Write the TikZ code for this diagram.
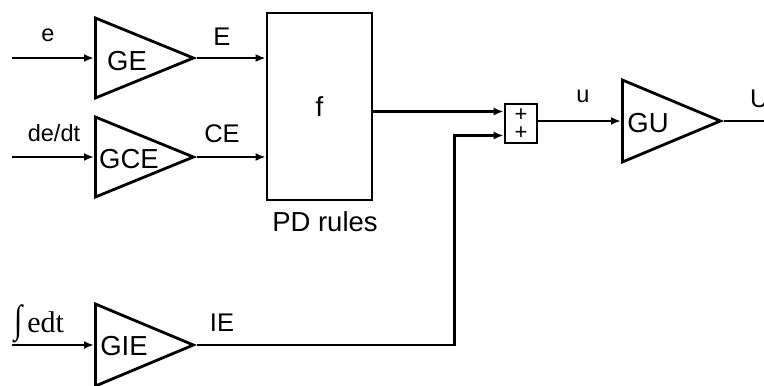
\documentclass[tikz,border=0pt]{standalone}
\usepackage{fontspec}
\usepackage{graphicx}
\setmainfont{Liberation Sans}
\newfontfamily\serifsig{Liberation Serif}
\usetikzlibrary{shapes.geometric,arrows.meta,calc,positioning}

\tikzset{
  sig/.style={line width=2.8pt,-{Latex[length=10pt,width=8pt]}},
  wire/.style={line width=2.8pt},
  gain/.style={draw,line width=2.8pt,isosceles triangle,isosceles triangle stretches,
    minimum height=98pt,minimum width=80pt,inner sep=0pt,anchor=west},
  gaintxt/.style={inner sep=0pt,font=\fontsize{27.5}{30}\selectfont},
  sigtxt/.style={inner sep=0pt,font=\fontsize{25.5}{28}\selectfont},
  smalltxt/.style={inner sep=0pt,font=\fontsize{23.5}{26}\selectfont},
  rulebox/.style={draw,line width=2.8pt,minimum width=105pt,minimum height=187pt,inner sep=0pt,
    font=\fontsize{27.5}{30}\selectfont},
  sumbox/.style={draw,line width=2.8pt,minimum width=32pt,minimum height=39pt,inner sep=0pt},
  plustxt/.style={inner sep=0pt,font=\fontsize{22}{24}\selectfont}
}

\begin{document}
\begin{tikzpicture}[x=1pt,y=1pt,yscale=-1]
\useasboundingbox (0,0) rectangle (764,386);

% gain blocks
\node[gain] (GE) at (94,58) {};
\node[gain] (GCE) at (94,157) {};
\node[gain,minimum width=82pt] (GIE) at (94,345) {};
\node[gain,minimum width=82pt] (GU) at (621,121) {};
\node[gaintxt] at ($(GE.west)+(33,3)$) {GE};
\node[gaintxt] at ($(GCE.west)+(35,2)$) {GCE};
\node[gaintxt] at ($(GIE.west)+(30,1)$) {GIE};
\node[gaintxt] at ($(GU.west)+(27,2)$) {GU};

% rule base and summer
\node[rulebox] (f) at (319.5,106.5) {f};
\node[gaintxt] (pd) at (325,222) {PD rules};
\node[sumbox] (sum) at (521,123.5) {};
\node[plustxt] at ($(sum.center)+(0,-8.5)$) {+};
\node[plustxt] at ($(sum.center)+(0,10)$) {+};

% signal ends
\coordinate (ein) at (12,58);
\coordinate (dein) at (12,157);
\coordinate (iein) at (12,345);
\coordinate (Uout) at (764,121);
\coordinate (s1) at ($(sum.west)+(0,-12)$);
\coordinate (s2) at ($(sum.west)+(0,12)$);

% connectors
\draw[sig] (ein) -- (GE.west);
\draw[sig] (dein) -- (GCE.west);
\draw[sig] (iein) -- (GIE.west);
\draw[sig] (GE.apex) -- (GE.apex -| f.west);
\draw[sig] (GCE.apex) -- (GCE.apex -| f.west);
\draw[sig] (f.east |- s1) -- (s1);
\draw[sig] (GIE.apex) -| ($(s2)+(-49,0)$) -- (s2);
\draw[sig] (GU.west -| sum.east) -- (GU.west);
\draw[wire] (GU.apex) -- (Uout);

% signal labels
\node[smalltxt] at (48,35) {e};
\node[smalltxt] at (54,133) {de/dt};
\node[inner sep=0pt,anchor=base west,font=\serifsig\fontsize{30}{32}\selectfont]
  at (14,332) {\scalebox{1}[1.3]{∫}\,edt};
\node[sigtxt] at (222,37) {E};
\node[sigtxt] at (222,134) {CE};
\node[sigtxt] at (222,323) {IE};
\node[smalltxt] at (583,96) {u};
\node[sigtxt,anchor=west] at (750,99) {U};
\end{tikzpicture}
\end{document}
